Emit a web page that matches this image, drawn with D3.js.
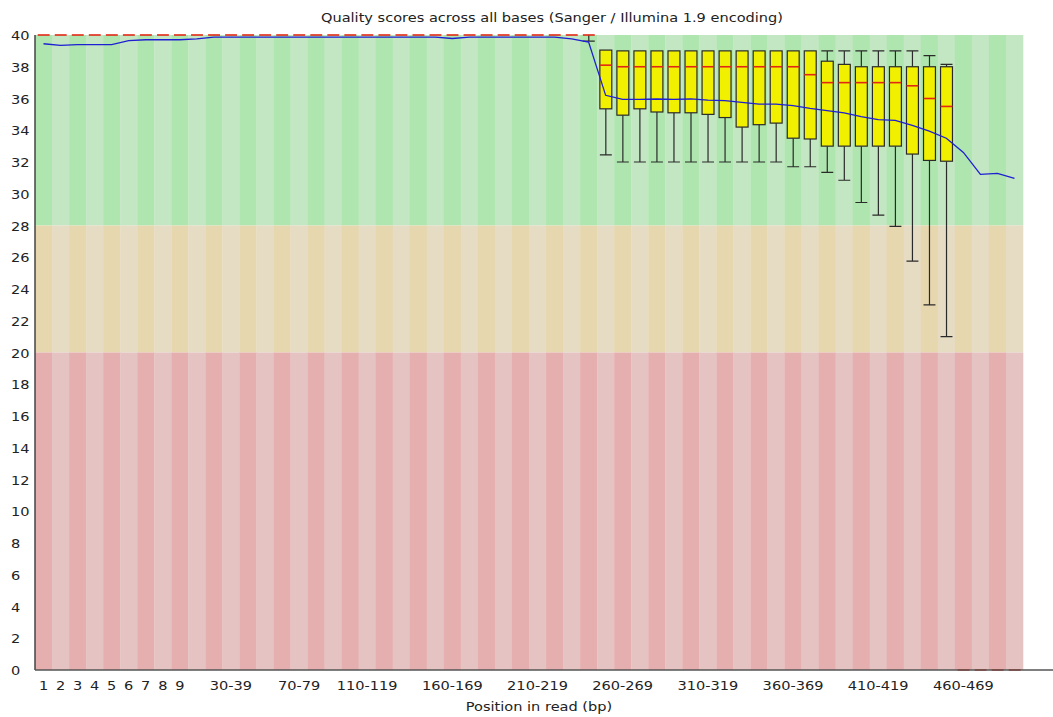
<!DOCTYPE html>
<html>
  <head>
    <script src="https://d3js.org/d3.v7.min.js"></script>
    <style>
      body { margin: 0; background: #fff; }
      text { font-family: "DejaVu Sans", sans-serif; fill: #222; }
    </style>
  </head>
  <body>
    <div id="chart"></div>
  <script>
    var width = 1053,
        height = 717;

    // position groups (x categories)
    var categories = ["1","2","3","4","5","6","7","8","9",
      "10-19","20-29","30-39","40-49","50-59","60-69","70-79","80-89","90-99",
      "100-109","110-119","120-129","130-139","140-149","150-159","160-169","170-179",
      "180-189","190-199","200-209","210-219","220-229","230-239","240-249","250-259",
      "260-269","270-279","280-289","290-299","300-309","310-319","320-329","330-339",
      "340-349","350-359","360-369","370-379","380-389","390-399","400-409","410-419",
      "420-429","430-439","440-449","450-459","460-469","470-479","480-489","490-499"];

    // labels actually printed under the axis
    var shownLabels = ["1","2","3","4","5","6","7","8","9","30-39","70-79","110-119",
      "160-169","210-219","260-269","310-319","360-369","410-419","460-469"];

    var yTicks = [0,2,4,6,8,10,12,14,16,18,20,22,24,26,28,30,32,34,36,38,40];

    // per-group stats
    var medians = [40,40,40,40,40,40,40,40,40,40,40,40,40,40,40,40,40,40,40,40,40,40,40,40,40,40,40,40,40,40,40,40,40,
      38.1,38,38,38,38,38,38,38,38,38,38,38,37.5,37,37,37,37,37,36.8,36,35.5,0,0,0,0];
    var upperQ = [40,40,40,40,40,40,40,40,40,40,40,40,40,40,40,40,40,40,40,40,40,40,40,40,40,40,40,40,40,40,40,40,40,
      39.05,39,39,39,39,39,39,39,39,39,39,39,39,38.35,38.15,38,38,38,38,38,38,0,0,0,0];
    var lowerQ = [40,40,40,40,40,40,40,40,40,40,40,40,40,40,40,40,40,40,40,40,40,40,40,40,40,40,40,40,40,40,40,40,40,
      35.35,34.95,35.35,35.15,35.1,35.1,35,34.8,34.2,34.35,34.45,33.5,33.45,33,33,33,33,33,32.5,32.1,32.05,0,0,0,0];
    var pct90 = [40,40,40,40,40,40,40,40,40,40,40,40,40,40,40,40,40,40,40,40,40,40,40,40,40,40,40,40,40,40,40,40,40,
      39.05,39,39,39,39,39,39,39,39,39,39,39,39,39,39,39,39,39,39,38.7,38.15,0,0,0,0];
    var pct10 = [40,40,40,40,40,40,40,40,40,40,40,40,40,40,40,40,40,40,40,40,40,40,40,40,40,40,40,40,40,40,40,40,39.62,
      32.45,32,32,32,32,32,32,32,32,32,32,31.7,31.7,31.35,30.85,29.45,28.65,27.95,25.75,23,21,0,0,0,0];
    var means = [39.45,39.35,39.4,39.4,39.4,39.65,39.7,39.7,39.7,39.75,39.87,39.87,39.87,39.87,39.87,39.87,39.87,
      39.87,39.87,39.87,39.87,39.87,39.87,39.87,39.78,39.87,39.87,39.87,39.87,39.87,39.87,39.75,39.55,
      36.2,35.95,35.95,35.97,35.95,35.97,35.9,35.86,35.76,35.65,35.65,35.55,35.38,35.24,35.1,34.86,34.67,
      34.62,34.3,33.95,33.5,32.6,31.22,31.28,30.97];

    var margin = {left: 35, right: 1023, top: 35, bottom: 670};

    var svg = d3.select("#chart").append("svg")
        .attr("width", width)
        .attr("height", height);

    var x = d3.scaleBand()
        .domain(categories)
        .range([margin.left, margin.right])
        .padding(0);

    var y = d3.scaleLinear()
        .domain([0, 40])
        .range([margin.bottom, margin.top]);

    var bw = x.bandwidth();

    // background bands: good / reasonable / poor, alternating shade per column
    var zones = [
      {lo: 28, hi: 40, dark: "rgb(175,230,175)", light: "rgb(195,230,195)"},
      {lo: 20, hi: 28, dark: "rgb(230,215,175)", light: "rgb(230,220,195)"},
      {lo: 0,  hi: 20, dark: "rgb(230,175,175)", light: "rgb(230,195,195)"}
    ];

    zones.forEach(function(z) {
      svg.append("g").selectAll("rect")
        .data(categories)
        .enter().append("rect")
          .attr("x", function(d) { return x(d); })
          .attr("y", y(z.hi))
          .attr("width", bw + 0.3)
          .attr("height", y(z.lo) - y(z.hi))
          .attr("fill", function(d, i) { return i % 2 == 0 ? z.dark : z.light; });
    });

    var stats = categories.map(function(c, i) {
      return {cat: c, med: medians[i], q1: lowerQ[i], q3: upperQ[i], lo: pct10[i], hi: pct90[i], mean: means[i]};
    });

    var boxL = function(d) { return x(d.cat) + bw * 0.16; };
    var boxW = bw * 0.7;
    var mid = function(d) { return x(d.cat) + bw * 0.16 + boxW / 2; };

    var g = svg.append("g");

    // whiskers
    g.selectAll(".whisk")
      .data(stats.filter(function(d) { return d.hi > d.lo; }))
      .enter().append("path")
        .attr("class", "whisk")
        .attr("fill", "none")
        .attr("stroke", "#2a2a2a")
        .attr("stroke-width", 1.2)
        .attr("d", function(d) {
          var p = "";
          if (d.hi > d.q3) p += "M" + boxL(d) + "," + y(d.hi) + "h" + boxW + "M" + mid(d) + "," + y(d.hi) + "V" + y(d.q3);
          if (d.lo < d.q1) p += "M" + boxL(d) + "," + y(d.lo) + "h" + boxW + "M" + mid(d) + "," + y(d.lo) + "V" + y(d.q1);
          return p;
        });

    // boxes
    g.selectAll(".box")
      .data(stats.filter(function(d) { return d.q3 > d.q1; }))
      .enter().append("rect")
        .attr("class", "box")
        .attr("x", boxL)
        .attr("y", function(d) { return y(d.q3); })
        .attr("width", boxW)
        .attr("height", function(d) { return y(d.q1) - y(d.q3); })
        .attr("fill", "rgb(240,240,0)")
        .attr("stroke", "#2a2a2a")
        .attr("stroke-width", 1.2);

    // medians
    g.selectAll(".med")
      .data(stats)
      .enter().append("line")
        .attr("class", "med")
        .attr("x1", boxL)
        .attr("x2", function(d) { return boxL(d) + boxW; })
        .attr("y1", function(d) { return y(d.med); })
        .attr("y2", function(d) { return y(d.med); })
        .attr("stroke", "rgb(225,40,20)")
        .attr("stroke-width", 1.6);

    // mean line
    var line = d3.line()
        .x(function(d) { return x(d.cat) + bw / 2; })
        .y(function(d) { return y(d.mean); });

    svg.append("path")
        .datum(stats)
        .attr("fill", "none")
        .attr("stroke", "rgb(30,30,210)")
        .attr("stroke-width", 1.3)
        .attr("d", line);

    // axes
    svg.append("line")
        .attr("x1", margin.left).attr("x2", margin.left)
        .attr("y1", margin.top).attr("y2", margin.bottom)
        .attr("stroke", "#444").attr("stroke-width", 1.5);
    svg.append("line")
        .attr("x1", margin.left).attr("x2", width)
        .attr("y1", margin.bottom).attr("y2", margin.bottom)
        .attr("stroke", "#555").attr("stroke-width", 1.5);

    var sx = 1.12;

    svg.append("g").selectAll("text")
      .data(yTicks)
      .enter().append("text")
        .attr("transform", function(d) { return "translate(11," + (y(d) + 5) + ") scale(" + sx + ",1)"; })
        .style("font-size", "13px")
        .text(function(d) { return d; });

    svg.append("g").selectAll("text")
      .data(shownLabels)
      .enter().append("text")
        .attr("transform", function(d) { return "translate(" + (x(d) + bw / 2) + ",690) scale(" + sx + ",1)"; })
        .attr("text-anchor", "middle")
        .style("font-size", "13px")
        .text(function(d) { return d; });

    svg.append("text")
        .attr("transform", "translate(552,22) scale(" + sx + ",1)")
        .attr("text-anchor", "middle")
        .style("font-size", "13px")
        .text("Quality scores across all bases (Sanger / Illumina 1.9 encoding)");

    svg.append("text")
        .attr("transform", "translate(539,711) scale(" + sx + ",1)")
        .attr("text-anchor", "middle")
        .style("font-size", "13px")
        .text("Position in read (bp)");
  </script>
  </body>
</html>
